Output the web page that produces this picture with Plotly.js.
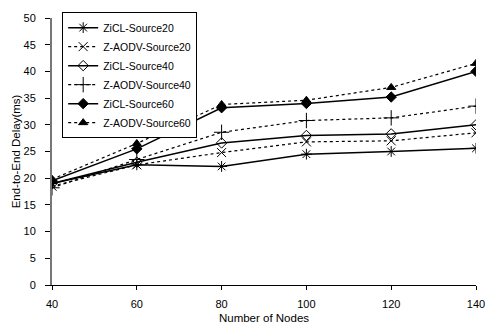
<!DOCTYPE html>
<html><head><meta charset="utf-8">
<script src="https://cdn.plot.ly/plotly-3.0.1.min.js"></script>
<style>html,body{margin:0;padding:0;background:#fff}#c{width:490px;height:326px}</style>
</head><body><div id="c"></div>
<script>
const nodes = [40, 60, 80, 100, 120, 140];
const names = ["ZiCL-Source20","Z-AODV-Source20","ZiCL-Source40","Z-AODV-Source40","ZiCL-Source60","Z-AODV-Source60"];
const zicl20 = [19.0, 22.5, 22.2, 24.5, 25.0, 25.6];
const zaodv20 = [18.5, 22.5, 24.8, 26.8, 27.0, 28.5];
const zicl40 = [19.0, 23.0, 26.6, 28.0, 28.3, 30.0];
const zaodv40 = [18.2, 23.5, 28.6, 30.8, 31.3, 33.5];
const zicl60 = [19.5, 25.5, 33.2, 34.0, 35.2, 40.0];
const zaodv60 = [19.8, 26.5, 33.8, 34.6, 37.0, 41.5];
const yticks = [0,5,10,15,20,25,30,35,40,45,50];

const series = [zicl20, zaodv20, zicl40, zaodv40, zicl60, zaodv60];
const symbols = ["asterisk-open","x-thin-open","diamond-open","cross-thin-open","diamond","triangle-up"];
const sizes = [9, 9, 8, 11, 8, 8];
const dashes = ["solid","dot","solid","dot","solid","dot"];

const traces = series.map((ys, i) => ({
  x: nodes, y: ys, name: names[i], type: "scatter", mode: "lines+markers",
  line: {color: "#000", width: dashes[i] === "solid" ? 1.5 : 1.2, dash: dashes[i]},
  marker: {symbol: symbols[i], size: sizes[i], color: "#000", line: {color: "#000", width: 1}}
}));

const layout = {
  width: 490, height: 326,
  margin: {l: 52, r: 14, t: 15, b: 41},
  paper_bgcolor: "#fff", plot_bgcolor: "#fff",
  font: {family: "Liberation Sans, Arial, sans-serif", size: 11, color: "#000"},
  showlegend: true,
  legend: {x: 0.024, y: 1.022, xanchor: "left", yanchor: "top", bgcolor: "#fff",
    bordercolor: "#000", borderwidth: 1, font: {size: 10.5}, tracegroupgap: 0},
  xaxis: {range: [40, 140], tickvals: nodes, ticks: "outside", ticklen: 4, tickcolor: "#000",
    ticklabelstandoff: 5,
    showline: true, linecolor: "#000", linewidth: 1, showgrid: false, zeroline: false,
    title: {text: "Number of Nodes", font: {size: 11.5}, standoff: 4}},
  yaxis: {range: [0, 50], tickvals: yticks, ticks: "outside", ticklen: 5, tickcolor: "#000",
    ticklabelstandoff: 7,
    showline: true, linecolor: "#777", linewidth: 2, showgrid: false, zeroline: false,
    title: {text: "End-to-End Delay(ms)", font: {size: 11.5}, standoff: 1}}
};
Plotly.newPlot("c", traces, layout, {displayModeBar: false, staticPlot: true});
</script></body></html>
